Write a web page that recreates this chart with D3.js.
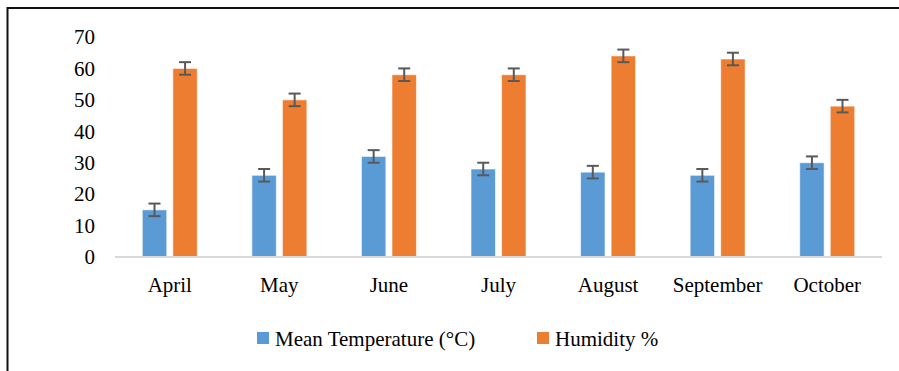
<!DOCTYPE html>
<html>
<head>
<meta charset="utf-8">
<script src="https://cdn.jsdelivr.net/npm/d3@7"></script>
<style>
  html, body { margin: 0; padding: 0; background: #fff; }
  svg { display: block; }
  svg text { font-family: 'Liberation Serif' !important; }
</style>
</head>
<body>
<svg id="chart" width="899" height="371"></svg>
<script>
const months = ["April", "May", "June", "July", "August", "September", "October"];
const seriesNames = ["Mean Temperature (\u00B0C)", "Humidity %"];
const temperature = [15, 26, 32, 28, 27, 26, 30];
const humidity = [60, 50, 58, 58, 64, 63, 48];
const temperatureErr = [2, 2, 2, 2, 2, 2, 2];
const humidityErr = [2, 2, 2, 2, 2, 2, 2];
const yTicks = [0, 10, 20, 30, 40, 50, 60, 70];
const colors = ["#5B9BD5", "#ED7D31"];

const FONT = "'Liberation Serif'";
const svg = d3.select("#chart");

// frame
svg.append("line").attr("x1", 7.5).attr("x2", 899).attr("y1", 8).attr("y2", 8)
  .attr("stroke", "#111").attr("stroke-width", 2);
svg.append("line").attr("x1", 7.5).attr("x2", 7.5).attr("y1", 7).attr("y2", 371)
  .attr("stroke", "#111").attr("stroke-width", 2);

const x0 = d3.scaleBand().domain(months).range([115, 882]).paddingInner(0.498).paddingOuter(0.249);
const x1 = d3.scaleBand().domain([0, 1]).range([0, x0.bandwidth()]).paddingInner(0.2).paddingOuter(0);
const y = d3.scaleLinear().domain([0, 70]).range([257, 37]);

function styleText(sel) {
  sel.style("font-family", FONT, "important").style("font-size", "21px")
    .attr("font-family", "Liberation Serif").attr("fill", "#000");
}

// y axis labels
const yAxis = d3.axisLeft(y).tickValues(yTicks).tickSize(0).tickPadding(0);
const gy = svg.append("g").attr("transform", "translate(95,0)").call(yAxis)
  .attr("font-family", "Liberation Serif").attr("font-size", 21);
gy.select(".domain").remove();
gy.selectAll("text").call(styleText);

const data = months.map((m, i) => ({
  month: m,
  vals: [
    { s: 0, v: temperature[i], e: temperatureErr[i] },
    { s: 1, v: humidity[i], e: humidityErr[i] }
  ]
}));

const groups = svg.append("g").selectAll("g").data(data).join("g")
  .attr("transform", d => `translate(${x0(d.month)},0)`);

groups.selectAll("rect").data(d => d.vals).join("rect")
  .attr("x", d => x1(d.s))
  .attr("width", x1.bandwidth())
  .attr("y", d => y(d.v))
  .attr("height", d => y(0) - y(d.v))
  .attr("fill", d => colors[d.s])
  .attr("stroke", "#fff").attr("stroke-opacity", 0.6).attr("stroke-width", 1);

// error bars
const eb = groups.selectAll("g.err").data(d => d.vals).join("g").attr("class", "err");
eb.append("line")
  .attr("x1", d => x1(d.s) + x1.bandwidth() / 2).attr("x2", d => x1(d.s) + x1.bandwidth() / 2)
  .attr("y1", d => y(d.v + d.e)).attr("y2", d => y(d.v - d.e))
  .attr("stroke", "#595959").attr("stroke-width", 2);
[1, -1].forEach(sign => {
  eb.append("line")
    .attr("x1", d => x1(d.s) + x1.bandwidth() / 2 - 6).attr("x2", d => x1(d.s) + x1.bandwidth() / 2 + 6)
    .attr("y1", d => y(d.v + sign * d.e)).attr("y2", d => y(d.v + sign * d.e))
    .attr("stroke", "#595959").attr("stroke-width", 2);
});

// x axis
const xAxis = d3.axisBottom(x0).tickSize(0).tickPadding(0);
const gx = svg.append("g").attr("transform", `translate(0,${y(0)})`).call(xAxis)
  .attr("font-family", "Liberation Serif").attr("font-size", 21);
gx.select(".domain").attr("stroke", "#D9D9D9").attr("stroke-width", 2)
  .attr("d", `M${x0.range()[0]},0H${x0.range()[1]}`);
gx.selectAll("text").call(styleText).attr("dy", null).attr("y", 35);

// legend
const legend = svg.append("g");
const legendX = [257, 537];
seriesNames.forEach((name, i) => {
  const lx = legendX[i];
  legend.append("rect").attr("x", lx).attr("y", 332).attr("width", 12).attr("height", 12).attr("fill", colors[i]);
  legend.append("text").attr("x", lx + 18).attr("y", 346).text(name).call(styleText);
});
</script>
</body>
</html>
